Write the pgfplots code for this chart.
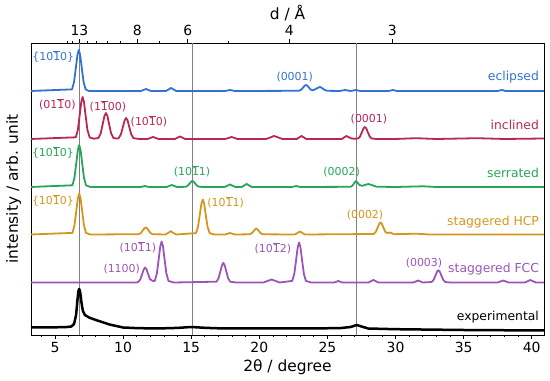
\documentclass[border=0pt]{standalone}
\usepackage{fontspec}
\setmainfont{DejaVu Sans}
\usepackage{pgfplots}
\pgfplotsset{compat=1.18}
\definecolor{ecl}{RGB}{50,115,210}
\definecolor{inc}{RGB}{185,40,85}
\definecolor{ser}{RGB}{40,165,90}
\definecolor{hcp}{RGB}{212,150,30}
\definecolor{fcc}{RGB}{155,85,185}
\definecolor{vline}{RGB}{128,128,128}
\newcommand{\ob}{$\overline{\mbox{1}}$}
\newcommand{\hkl}{\fontsize{11}{13}\selectfont}
\newcommand{\nm}{\fontsize{12.4}{14}\selectfont}
\begin{document}
\begin{tikzpicture}
\pgfplotsset{
  common/.style={scale only axis, width=513bp, height=292bp,
    xmin=3.24, xmax=40.9, ymin=0, ymax=292,
    tick align=outside, major tick length=4bp, minor tick length=2bp,
    every tick/.style={black, line width=0.8bp},
    axis line style={line width=0.9bp},
    ticklabel style={font=\fontsize{14}{16}\selectfont},
    /pgf/number format/assume math mode=true,
    label style={font=\fontsize{15.5}{18}\selectfont}}
}
\begin{axis}[common, axis x line*=top, axis y line=none,
  xtick={6.794,11.051,14.752,22.207,29.756}, xticklabels={13,8,6,4,3},
  minor xtick={5.887,6.308,7.361,8.031,8.836,9.820,12.636,17.725},
  xlabel={d / Å}, xlabel style={at={(axis description cs:0.5,1.101)}, anchor=center}]
\end{axis}
\begin{axis}[common, ytick=\empty, xtick={5,10,...,40}, minor xtick={4,...,40},
  xtick pos=bottom,
  xlabel={2θ / degree}, xlabel style={at={(axis description cs:0.5,-0.1096)}, anchor=center},
  ylabel={intensity / arb. unit}, ylabel style={at={(axis description cs:-0.0337,0.5)}, anchor=center}]
% reference lines
\addplot[vline, line width=0.9bp] coordinates {(6.78,0)(6.78,292)};
\addplot[vline, line width=0.9bp] coordinates {(15.1,0)(15.1,292)};
\addplot[vline, line width=0.9bp] coordinates {(27.15,0)(27.15,292)};
% eclipsed
\addplot[ecl, line width=1.8bp, line join=round] coordinates {
(3.2,244)(6.25,245.6)(6.40,253.0)(6.55,269.0)(6.65,280.1)(6.75,285)(6.85,280.1)(6.95,269.0)(7.10,253.0)(7.25,245.6)(7.5,244)
(11.3,244)(11.68,246)(12.05,244)(13.15,244)(13.52,247)(13.9,244)(17.5,244)(17.85,245)(18.2,244)
(22.9,244.2)(23.08,245.3)(23.23,247.7)(23.33,249.3)(23.43,250)(23.53,249.3)(23.63,247.7)(23.78,245.3)(23.95,244.8)
(24.2,246.4)(24.35,247.5)(24.46,248)(24.6,247)(24.8,245)(25.0,244.2)
(25.9,244)(26.3,245)(26.7,244)(27.1,245)(27.4,244)(29.5,244)(29.8,245)(30.1,244)(37.5,244)(37.8,245)(38.1,244)(40.9,244)};
% inclined
\addplot[inc, line width=1.8bp, line join=round] coordinates {
(3.2,196)(6.53,197.7)(6.68,205.2)(6.83,221.6)(6.93,233)(7.03,238)(7.13,233)(7.23,221.6)(7.38,205.2)(7.55,197.5)(7.85,196.3)
(8.19,197)(8.36,201.7)(8.52,211.9)(8.63,218.9)(8.74,222)(8.85,218.9)(8.96,211.9)(9.12,201.7)(9.29,197)(9.55,196.4)
(9.67,196.8)(9.84,200.6)(10.0,208.8)(10.11,214.5)(10.22,217)(10.33,214.5)(10.44,208.8)(10.6,200.6)(10.77,196.8)(11.2,196)
(11.8,196)(12.2,198)(12.6,196)(13.8,196)(14.18,198.5)(14.55,196)(17.5,196)(17.97,198)(18.4,196)
(20.5,196)(20.8,197.5)(21.08,199)(21.4,197.5)(21.7,196)(22.75,196)(23.1,199)(23.45,196)(26.05,196)(26.4,199)(26.75,196.5)(27.0,196.3)
(27.25,196.5)(27.4,198.6)(27.55,203.3)(27.65,206.6)(27.75,208)(27.85,206.6)(27.95,203.3)(28.1,198.6)(28.25,196.5)(28.6,196)
(30.0,196)(31.5,196.8)(33,196)(36,196.8)(38,196)(40.9,196.5)};
% serrated
\addplot[ser, line width=1.8bp, line join=round] coordinates {
(3.2,148)(6.28,149.7)(6.43,157.2)(6.58,173.6)(6.68,185)(6.78,190)(6.88,185)(6.98,173.6)(7.13,157.2)(7.28,149.7)(7.6,148)
(11.3,148)(11.6,149)(11.9,148)(13.2,148)(13.57,150)(13.95,148)
(14.6,148.2)(14.75,149.3)(14.9,151.7)(15.0,153.3)(15.08,154)(15.18,153.3)(15.28,151.7)(15.43,149.3)(15.6,148.2)(16,148)
(17.45,148)(17.85,150.5)(18.25,148)(18.7,148)(19.07,151)(19.45,148)(22.4,148)(22.7,149)(23.0,148)
(26.7,148.2)(26.85,149.5)(27.0,152.5)(27.1,154)(27.2,152.5)(27.35,150)(27.55,149.2)(27.75,150)(28.0,151)(28.25,150)(28.6,148.3)
(30,148)(32,148.7)(33,148)(40.9,148)};
% staggered HCP
\addplot[hcp, line width=1.8bp, line join=round] coordinates {
(3.2,100.5)(6.28,102.1)(6.43,109.5)(6.58,125.5)(6.68,136.6)(6.78,141.5)(6.88,136.6)(6.98,125.5)(7.13,109.5)(7.28,102.1)(7.6,100.5)
(11.16,100.8)(11.31,102)(11.46,104.8)(11.56,106.7)(11.66,107.5)(11.76,106.7)(11.86,104.8)(12.01,102)(12.16,100.8)
(13.1,100.5)(13.3,102)(13.5,103.8)(13.7,102)(13.9,100.5)
(15.35,101.9)(15.5,108.2)(15.65,121.9)(15.75,131.3)(15.85,135.5)(15.95,131.3)(16.05,121.9)(16.2,108.2)(16.35,101.9)(16.7,100.5)
(17.5,100.5)(17.85,102)(18.2,100.5)
(19.3,100.7)(19.45,101.8)(19.6,104.2)(19.7,105.8)(19.75,106.5)(19.85,105.8)(19.95,104.2)(20.1,101.8)(20.25,100.7)
(22.6,100.5)(22.98,103.5)(23.35,100.5)
(28.4,101)(28.55,103.1)(28.7,107.8)(28.8,111.1)(28.9,112.5)(29.0,111.1)(29.1,107.8)(29.25,103.1)(29.4,102)(29.6,102.5)(29.9,100.8)
(31.5,101.3)(32.5,100.5)(40.9,100.5)};
% staggered FCC
\addplot[fcc, line width=1.8bp, line join=round] coordinates {
(3.2,52.5)(11.0,52.5)
(11.12,53.1)(11.27,55.8)(11.42,61.7)(11.52,65.7)(11.62,67.5)(11.72,65.7)(11.82,61.7)(11.97,55.8)(12.2,54)
(12.33,54.1)(12.48,61.5)(12.63,77.5)(12.73,88.6)(12.83,93.5)(12.93,88.6)(13.03,77.5)(13.18,61.5)(13.33,54.1)(13.7,52.5)
(16.86,53.3)(17.01,56.8)(17.16,64.5)(17.26,69.7)(17.36,72.1)(17.46,69.7)(17.56,64.5)(17.71,56.8)(17.86,53.3)(18.3,52.5)
(20.3,52.5)(20.6,54)(20.9,55.5)(21.2,54)(21.5,52.5)
(22.42,54.1)(22.57,61.3)(22.72,76.9)(22.82,87.7)(22.92,92.5)(23.02,87.7)(23.12,76.9)(23.27,61.3)(23.42,54.1)(23.8,52.5)
(25.5,52.5)(25.8,54)(26.1,52.5)(28.0,52.5)(28.37,55)(28.75,52.5)(31.3,52.5)(31.67,54.5)(32.0,52.5)
(32.65,53)(32.8,55.2)(32.95,60)(33.05,63.3)(33.15,64.8)(33.25,63.3)(33.35,60)(33.5,55.2)(33.65,53)(34,52.5)
(37.5,52.5)(37.9,54.5)(38.3,52.5)(39.5,52.5)(39.9,55)(40.3,52.5)(40.9,52.5)};
% experimental
\addplot[black, line width=2.5bp, line join=round] coordinates {
(3.2,7.7)(5.0,7.7)(5.8,7.9)(6.2,8.5)(6.4,11)(6.55,20)(6.65,35)(6.72,44)(6.78,46)(6.85,43)(6.95,32)(7.05,24)(7.2,20)(7.5,17.5)
(8.0,15)(8.5,12.8)(9.0,10.5)(9.5,9)(10,7.5)(11,6.9)(12,6.6)(13,6.7)(14,7.1)(15,8)(16,7.2)(17,6.7)(20,6.7)(24,6.5)(26,7)(26.7,8)
(27.15,10)(27.5,8.5)(28,6.5)(30,5.8)(35,5)(40.9,4.5)};
% labels
\node[text=ecl, font=\hkl] at (axis cs:4.875,278.3) {\{10\ob0\}};
\node[text=ecl, font=\hkl] at (axis cs:22.6,258.3) {(0001)};
\node[text=ecl, font=\nm, anchor=east, inner sep=0pt] at (axis cs:40.54,257.5) {eclipsed};
\node[text=inc, font=\hkl] at (axis cs:5.18,231) {(01\ob0)};
\node[text=inc, font=\hkl] at (axis cs:8.89,228.3) {(1\ob00)};
\node[text=inc, font=\hkl] at (axis cs:11.90,214) {(10\ob0)};
\node[text=inc, font=\hkl] at (axis cs:28.05,216) {(0001)};
\node[text=inc, font=\nm, anchor=east, inner sep=0pt] at (axis cs:40.54,210) {inclined};
\node[text=ser, font=\hkl] at (axis cs:4.85,182.3) {\{10\ob0\}};
\node[text=ser, font=\hkl] at (axis cs:15.06,163.3) {(10\ob1)};
\node[text=ser, font=\hkl] at (axis cs:26.04,162.7) {(0002)};
\node[text=ser, font=\nm, anchor=east, inner sep=0pt] at (axis cs:40.54,162.3) {serrated};
\node[text=hcp, font=\hkl] at (axis cs:4.85,134.3) {\{10\ob0\}};
\node[text=hcp, font=\hkl] at (axis cs:17.53,132.3) {(10\ob1)};
\node[text=hcp, font=\hkl] at (axis cs:27.76,120) {(0002)};
\node[text=hcp, font=\nm, anchor=east, inner sep=0pt] at (axis cs:40.54,113.3) {staggered HCP};
\node[text=fcc, font=\hkl] at (axis cs:11.09,87.3) {(10\ob1)};
\node[text=fcc, font=\hkl] at (axis cs:9.90,65.7) {(1100)};
\node[text=fcc, font=\hkl] at (axis cs:21.0,87) {(10\ob2)};
\node[text=fcc, font=\hkl] at (axis cs:32.09,71.7) {(0003)};
\node[text=fcc, font=\nm, anchor=east, inner sep=0pt] at (axis cs:40.54,66) {staggered FCC};
\node[text=black, font=\nm, anchor=east, inner sep=0pt] at (axis cs:40.54,18.3) {experimental};
\end{axis}
\path (-31bp,-46bp) rectangle (519bp,335bp);
\end{tikzpicture}
\end{document}
